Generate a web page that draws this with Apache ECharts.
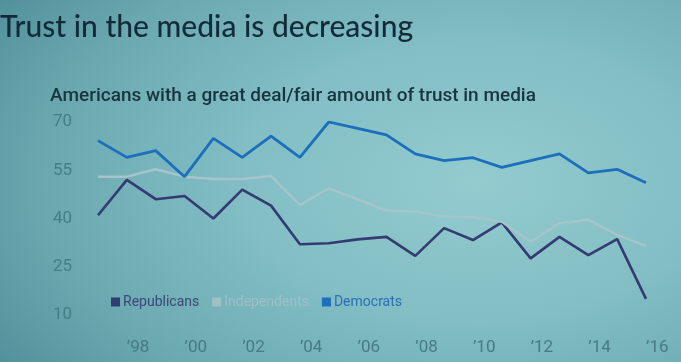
<!DOCTYPE html>
<html>
<head>
<meta charset="utf-8">
<script src="https://cdn.jsdelivr.net/npm/echarts@6/dist/echarts.min.js"></script>
<style>
html,body{margin:0;padding:0;}
#chart{width:681px;height:362px;background:radial-gradient(ellipse 85% 95% at 70% 50%, #93cbcf 0%, #82bec4 40%, #6aa8b0 75%, #4f8f99 100%);}
</style>
</head>
<body>
<div id="chart"></div>
<script>
const years = ['1997','1998','1999','2000','2001','2002','2003','2004','2005','2006','2007','2008','2009','2010','2011','2012','2013','2014','2015','2016'];
const republicans = [41, 52, 46, 47, 40, 49, 44, 32, 32.3, 33.5, 34.3, 28.4, 37, 33.3, 38.8, 27.6, 34.3, 28.6, 33.6, 15];
const independents = [53, 53, 55.3, 53, 52.3, 52.3, 53.2, 44.2, 49.4, 46, 42.4, 42.2, 40.6, 40.4, 39, 32.8, 38.5, 39.6, 34.9, 31.5];
const democrats = [64.2, 59, 61.1, 53, 64.9, 59, 65.6, 59, 70, 68, 66, 60.1, 58, 58.9, 55.9, 58, 60.1, 54.2, 55.3, 51.1];
const yTicks = [10, 25, 40, 55, 70];
const titleText = 'Trust in the media is decreasing';
const subtitleText = 'Americans with a great deal/fair amount of trust in media';

const chart = echarts.init(document.getElementById('chart'));
chart.setOption({
  backgroundColor: 'transparent',
  animation: false,
  title: [
    {text: titleText, left: -5, top: 7, textStyle: {fontFamily: 'Lato', fontSize: 30, fontWeight: 500, color: '#132b38'}},
    {text: subtitleText, left: 45, top: 82, textStyle: {fontFamily: 'Roboto', fontSize: 19, fontWeight: 500, color: '#17343f'}}
  ],
  legend: {
    left: 106, top: 290, icon: 'rect', itemWidth: 9, itemHeight: 9, itemGap: 13,
    textStyle: {fontFamily: 'Roboto', fontSize: 14, padding: [0,0,0,-2]},
    data: [
      {name: 'Republicans', textStyle: {color: '#3b477a'}},
      {name: 'Independents', textStyle: {color: '#9ec0c7'}},
      {name: 'Democrats', textStyle: {color: '#2a6fb5'}}
    ]
  },
  grid: {left: 98, right: 35, top: 122, bottom: 47},
  xAxis: {
    type: 'category', data: years, boundaryGap: false,
    axisLine: {show: false}, axisTick: {show: false}, splitLine: {show: false},
    axisLabel: {
      interval: function (i, v) { return parseInt(v) % 2 === 0; },
      formatter: function (v) { return '\u2019' + v.slice(2); },
      align: 'left', margin: 24, fontFamily: 'Roboto', fontSize: 17, color: '#467a86'
    }
  },
  yAxis: {
    type: 'value', min: 10, max: 70, interval: 15,
    axisLine: {show: false}, axisTick: {show: false}, splitLine: {show: false},
    axisLabel: {margin: 26, fontFamily: 'Roboto', fontSize: 17, color: '#437d86',
      formatter: function (v) { return yTicks.indexOf(v) >= 0 ? String(v) : ''; }}
  },
  series: [
    {name: 'Republicans', type: 'line', data: republicans, symbol: 'none', color: '#343a72', lineStyle: {width: 2.6, color: '#343a72'}},
    {name: 'Independents', type: 'line', data: independents, symbol: 'none', color: '#9ec0c7', lineStyle: {width: 2.4, color: '#a6c4cb'}},
    {name: 'Democrats', type: 'line', data: democrats, symbol: 'none', color: '#1b6fbd', lineStyle: {width: 2.8, color: '#1b6fbd'}}
  ]
});
</script>
</body>
</html>
